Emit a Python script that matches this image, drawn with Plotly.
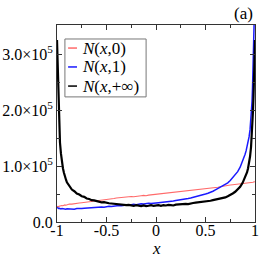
import plotly.graph_objects as go

# ---- data (y in thousands) ----
x_vals = [-1.0, -0.995, -0.99, -0.985, -0.98, -0.975, -0.97, -0.96, -0.95, -0.94, -0.93, -0.92, -0.91, -0.9,
          -0.875, -0.85, -0.825, -0.8, -0.775, -0.75, -0.725, -0.7, -0.675, -0.65, -0.625, -0.6, -0.575, -0.55,
          -0.525, -0.5, -0.475, -0.45, -0.425, -0.4, -0.375, -0.35, -0.325, -0.3, -0.275, -0.25, -0.225, -0.2,
          -0.175, -0.15, -0.125, -0.1, -0.075, -0.05, -0.025, 0.0, 0.025, 0.05, 0.075, 0.1, 0.125, 0.15, 0.175,
          0.2, 0.225, 0.25, 0.275, 0.3, 0.325, 0.35, 0.375, 0.4, 0.425, 0.45, 0.475, 0.5, 0.525, 0.55, 0.575,
          0.6, 0.625, 0.65, 0.675, 0.7, 0.725, 0.75, 0.775, 0.8, 0.825, 0.85, 0.875, 0.9,
          0.91, 0.92, 0.93, 0.94, 0.95, 0.96, 0.97, 0.975, 0.98, 0.985, 0.99, 0.995, 1.0]

n_inf = [325, 285, 245, 210, 182, 160, 142, 122, 106, 96, 88, 80, 76, 71,
         64, 58, 55, 51, 49, 46, 45, 42, 41, 39, 38.5, 37, 36.5, 35,
         35.5, 34, 33.5, 33, 32.5, 32, 31, 31.5, 30.5, 30, 30.5, 29.5, 29, 30,
         29, 28.5, 29.5, 28.5, 29, 30, 29, 29.5, 30, 29, 30, 29.5, 30.5, 30, 29.5,
         31, 31.5, 31, 32, 32.5, 32, 33.5, 34, 34.5, 35, 36, 35.5, 37, 37.5, 38, 39,
         40, 40.5, 42, 43, 44, 46, 48, 51, 54, 58, 63, 70, 79,
         84, 89, 96, 105, 117, 134, 160, 178, 200, 225, 255, 290, 325]

n_one = [26, 25, 24.5, 25, 24, 24.5, 24, 23.5, 24, 23.5, 23, 23.5, 23, 23.5,
         23, 23.5, 23, 24, 23.5, 24, 24.5, 25, 25.5, 25, 26, 26, 26.5, 27,
         26.5, 27.5, 28, 27.5, 28.5, 29, 29.5, 29, 30, 30.5, 30, 31, 31.5, 31,
         32, 32.5, 32, 33, 33.5, 33, 34, 34, 34.5, 35, 34.5, 35.5, 36, 36.5, 37.5,
         38.5, 39, 40, 40.5, 41.5, 42, 43, 44, 45, 46, 47.5, 48.5, 50, 51.5, 53, 55,
         57.5, 60, 62, 64.5, 67, 70, 74, 79, 84, 90, 98, 108, 121,
         127, 134, 142, 152, 165, 185, 215, 240, 270, 305, 345, 380, 420]

n_zero = [28, 27.5, 28, 27, 28, 28.5, 28, 29, 29.5, 29, 30, 30.5, 30, 31,
          32, 32, 33, 33.5, 34, 34.5, 35, 35.5, 36, 37, 37.5, 38, 39, 38.5,
          40, 40.5, 41, 41.5, 42, 43, 43.5, 44, 43.5, 44.5, 45, 45.5, 45, 46,
          46.5, 47, 47.5, 47, 48, 48.5, 48, 49, 49.5, 50, 50.5, 51, 51, 52, 52.5,
          53.5, 53, 54, 55, 54.5, 55.5, 56, 56.5, 57, 57.5, 58, 58.5, 59, 59.5, 60, 61,
          61.5, 62, 63, 64, 65, 65.5, 66, 66.5, 67, 67.5, 68, 68.5, 69,
          69, 69.5, 69, 70, 70.5, 70, 71, 70.5, 71, 71.5, 72, 71.5, 72]

assert len(x_vals) == len(n_inf) == len(n_one) == len(n_zero)

series_names = ["<i>N</i>(<i>x</i>,0)", "<i>N</i>(<i>x</i>,1)", "<i>N</i>(<i>x</i>,+∞)"]
series_vals = [n_zero, n_one, n_inf]
series_colors = ["#ff6a6a", "#1a1aff", "#000000"]
series_widths = [1.1, 1.5, 2.2]

y_tickvals = [0, 100000, 200000, 300000]
y_ticktext = ["0.0", "1.0×10<sup>5</sup>", "2.0×10<sup>5</sup>", "3.0×10<sup>5</sup>"]
x_tickvals = [-1, -0.5, 0, 0.5, 1]
x_ticktext = ["-1", "-0.5", "0", "0.5", "1"]

FONT = "Liberation Serif, Times New Roman, serif"

fig = go.Figure()
for name, vals, col, w in zip(series_names, series_vals, series_colors, series_widths):
    fig.add_trace(go.Scatter(x=x_vals, y=[v * 1000 for v in vals], mode="lines",
                             line=dict(color=col, width=w), name=name, showlegend=False,
                             cliponaxis=True))

axis_common = dict(showline=True, linecolor="#333", linewidth=1, mirror="ticks",
                   ticks="inside", ticklen=5, tickcolor="#333", showgrid=False, zeroline=False,
                   automargin=False,
                   tickfont=dict(family=FONT, size=16, color="black"))

fig.update_xaxes(range=[-1, 1], tickvals=x_tickvals, ticktext=x_ticktext, ticklabelstandoff=-6,
                 minor=dict(ticks="inside", ticklen=3, dtick=0.25, tickcolor="#333", showgrid=False),
                 **axis_common)
fig.update_yaxes(range=[0, 352000], tickvals=y_tickvals, ticktext=y_ticktext,
                 minor=dict(ticks="inside", ticklen=3, tickvals=[50000, 150000, 250000],
                            tickcolor="#333", showgrid=False),
                 **axis_common)

# manual legend
leg_x0, leg_x1, leg_y0, leg_y1 = 0.04, 0.45, 0.635, 0.929
shapes = [dict(type="rect", xref="paper", yref="paper", x0=leg_x0, x1=leg_x1, y0=leg_y0, y1=leg_y1,
               line=dict(color="#777", width=1), fillcolor="white", layer="above")]
annotations = []
row_y = [0.883, 0.787, 0.690]
for name, col, ry in zip(series_names, series_colors, row_y):
    shapes.append(dict(type="line", xref="paper", yref="paper", x0=0.056, x1=0.101, y0=ry, y1=ry,
                       line=dict(color=col, width=1.5), layer="above"))
    annotations.append(dict(xref="paper", yref="paper", x=0.116, y=ry, text=name, showarrow=False,
                            xanchor="left", yanchor="middle",
                            font=dict(family=FONT, size=17, color="black")))
annotations.append(dict(xref="paper", yref="paper", x=0.94, y=1.056, text="(a)", showarrow=False,
                        xanchor="center", yanchor="middle",
                        font=dict(family=FONT, size=17, color="black")))
annotations.append(dict(xref="paper", yref="paper", x=0.5, y=-0.132, text="<i>x</i>", showarrow=False,
                        xanchor="center", yanchor="middle",
                        font=dict(family=FONT, size=17, color="black")))

fig.update_layout(width=266, height=266, margin=dict(l=57, r=11, t=25, b=44),
                  font=dict(family=FONT),
                  paper_bgcolor="white", plot_bgcolor="white",
                  shapes=shapes, annotations=annotations)

fig.write_html("out.html", config={"displayModeBar": False},
               post_script="document.body.style.margin='0';document.body.style.padding='0';")
